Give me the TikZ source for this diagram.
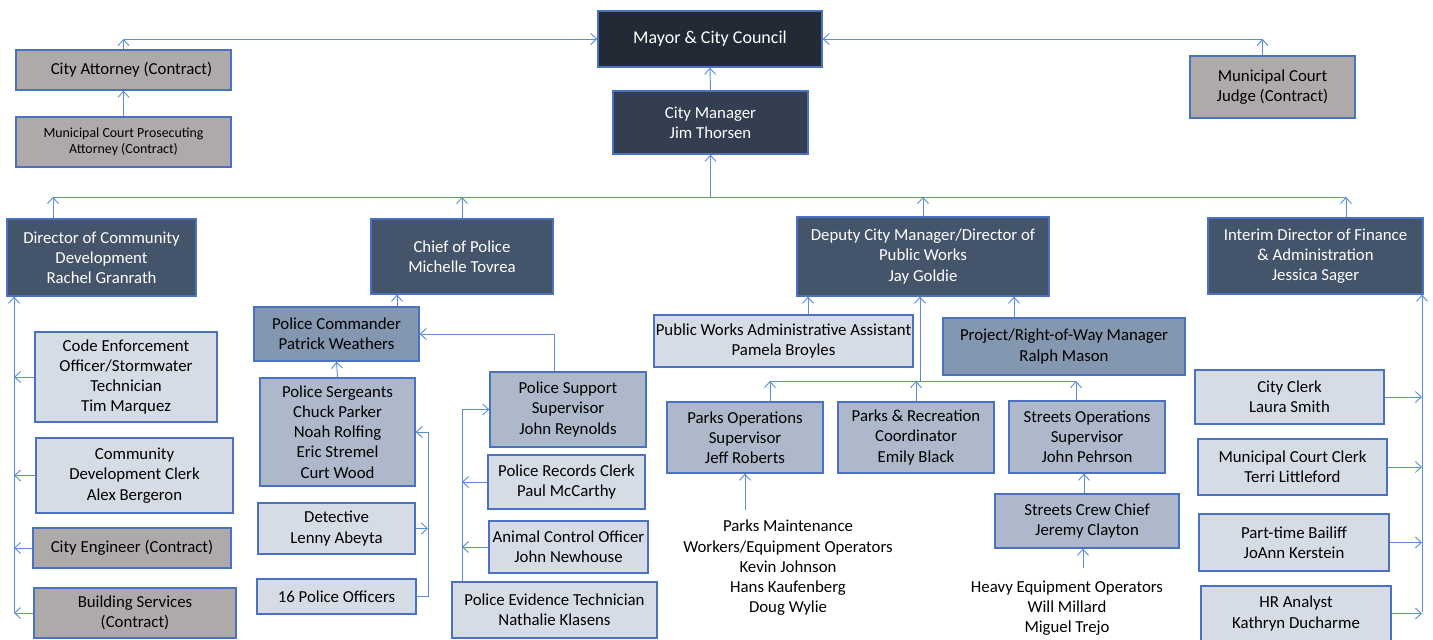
\documentclass[tikz,border=0pt]{standalone}
\usepackage{fontspec}
\setmainfont{Carlito}
\usetikzlibrary{arrows.meta}
\definecolor{bordc}{HTML}{4A72C0}
\definecolor{linec}{HTML}{5B8BDB}
\definecolor{cmayor}{HTML}{222A35}
\definecolor{cman}{HTML}{333F50}
\definecolor{cdir}{HTML}{44546A}
\definecolor{cmid}{HTML}{8497B0}
\definecolor{clm}{HTML}{ADB9CA}
\definecolor{clt}{HTML}{D6DCE5}
\definecolor{cgray}{HTML}{AEAAAA}
\newcommand\myfs{\fontsize{16.8}{20.2}\selectfont}
\newcommand\mysmallfs{\fontsize{13.9}{16.5}\selectfont}
\begin{document}
\begin{tikzpicture}[x=1pt,y=-1pt,
  box/.style={draw=bordc,line width=1.3pt,inner sep=0pt,align=center,font=\myfs},
  bmayor/.style={box,fill=cmayor,text=white},
  bman/.style={box,fill=cman,text=white},
  bdir/.style={box,fill=cdir,text=white},
  bmid/.style={box,fill=cmid},
  blm/.style={box,fill=clm},
  blt/.style={box,fill=clt},
  bgray/.style={box,fill=cgray},
  plain/.style={inner sep=0pt,align=center,font=\myfs},
  ln/.style={draw=linec,line width=0.9pt},
  ar/.style={ln,-{Straight Barb[length=6pt,width=11pt]}}]
\useasboundingbox[fill=white] (0,0) rectangle (1433,640);

% top
\node[bmayor,minimum width=224pt,minimum height=56pt,font=\fontsize{18}{20}\selectfont] (mayor) at (710,39) {Mayor \& City Council};
\node[bman,minimum width=195pt,minimum height=63pt] (cm) at (710.5,122.5) {City Manager\\Jim Thorsen};
\node[bgray,minimum width=215pt,minimum height=40pt] (att) at (123.5,70) {\hspace*{16pt}City Attorney (Contract)};
\node[bgray,minimum width=215pt,minimum height=50pt,font=\mysmallfs] (pros) at (123.5,142) {Municipal Court Prosecuting\\Attorney (Contract)};
\node[bgray,minimum width=165pt,minimum height=62pt] (judge) at (1272.5,87) {Municipal Court\\Judge (Contract)};

% directors
\node[bdir,minimum width=189pt,minimum height=77pt] (cd) at (101.5,257.5) {Director of Community\\Development\\Rachel Granrath};
\node[bdir,minimum width=182pt,minimum height=75pt] (chief) at (462,256.5) {Chief of Police\\Michelle Tovrea};
\node[bdir,minimum width=252pt,minimum height=79pt] (dep) at (923,256.5) {Deputy City Manager/Director of\\Public Works\\Jay Goldie};
\node[bdir,minimum width=215pt,minimum height=76pt] (fin) at (1315.5,256) {Interim Director of Finance\\\& Administration\\Jessica Sager};

% community development
\node[blt,minimum width=182pt,minimum height=90pt] (code) at (126,377) {Code Enforcement\\Officer/Stormwater\\Technician\\Tim Marquez};
\node[blt,minimum width=197pt,minimum height=75pt] (cdc) at (134.5,475.5) {Community\\Development Clerk\\Alex Bergeron};
\node[bgray,minimum width=198pt,minimum height=40pt] (eng) at (132,548) {City Engineer (Contract)};
\node[bgray,minimum width=202pt,minimum height=50pt] (bld) at (135,613) {Building Services\\(Contract)};

% police
\node[bmid,minimum width=165pt,minimum height=54pt] (cmd) at (336.5,334) {Police Commander\\Patrick Weathers};
\node[blm,minimum width=155pt,minimum height=108pt] (sgt) at (337.5,432) {Police Sergeants\\Chuck Parker\\Noah Rolfing\\Eric Stremel\\Curt Wood};
\node[blt,minimum width=157pt,minimum height=51pt] (det) at (336.5,528.5) {Detective\\Lenny Abeyta};
\node[blt,minimum width=159pt,minimum height=35pt] (off) at (336.5,596.5) {16 Police Officers};
\node[blm,minimum width=156pt,minimum height=75pt] (sup) at (568,409.5) {Police Support\\Supervisor\\John Reynolds};
\node[blt,minimum width=157pt,minimum height=54pt] (rec) at (566.5,482) {Police Records Clerk\\Paul McCarthy};
\node[blt,minimum width=159pt,minimum height=52pt] (ani) at (568.5,547) {Animal Control Officer\\John Newhouse};
\node[blt,minimum width=205pt,minimum height=56pt] (evi) at (554.5,610) {Police Evidence Technician\\Nathalie Klasens};

% public works
\node[blt,minimum width=259pt,minimum height=52pt] (pwa) at (783.5,341) {Public Works Administrative Assistant\\Pamela Broyles};
\node[bmid,minimum width=242pt,minimum height=57pt] (row) at (1064,346.5) {Project/Right-of-Way Manager\\Ralph Mason};
\node[blm,minimum width=156pt,minimum height=71pt] (pops) at (745,437.5) {Parks Operations\\Supervisor\\Jeff Roberts};
\node[blm,minimum width=156pt,minimum height=71pt] (prec) at (916,437.5) {Parks \& Recreation\\Coordinator\\Emily Black};
\node[blm,minimum width=156pt,minimum height=72pt] (sops) at (1087,437) {Streets Operations\\Supervisor\\John Pehrson};
\node[blm,minimum width=184pt,minimum height=54pt] (crew) at (1087,521) {Streets Crew Chief\\Jeremy Clayton};
\node[plain] (pmt) at (788,568) {Parks Maintenance\\Workers/Equipment Operators\\Kevin Johnson\\Hans Kaufenberg\\Doug Wylie};
\node[plain] (heq) at (1067,608) {Heavy Equipment Operators\\Will Millard\\Miguel Trejo};

% finance
\node[blt,minimum width=189pt,minimum height=54pt] (clerk) at (1289.5,397) {City Clerk\\Laura Smith};
\node[blt,minimum width=189pt,minimum height=56pt] (mcc) at (1292.5,467) {Municipal Court Clerk\\Terri Littleford};
\node[blt,minimum width=190pt,minimum height=57pt] (bail) at (1294,542.5) {Part-time Bailiff\\JoAnn Kerstein};
\node[blt,minimum width=190pt,minimum height=55pt] (hr) at (1296,613.5) {HR Analyst\\Kathryn Ducharme};

% ---- connectors ----
\coordinate (tl) at (att.north |- mayor.west);
\draw[ar] (att.north) -- (tl);
\draw[ar] (tl) -- (mayor.west);
\coordinate (jt) at ([xshift=-10pt]judge.north);
\coordinate (tr) at (jt |- mayor.east);
\draw[ar] (jt) -- (tr);
\draw[ar] (tr) -- (mayor.east);
\draw[ar] (pros.north) -- (att.south);
\draw[ar] (cm.north) -- (mayor.south);

\coordinate (busy) at (0,197);
\coordinate (b0) at (cm.south |- busy);
\coordinate (bl) at (53,197);
\coordinate (br) at (1346,197);
\draw[ar] (b0) -- (cm.south);
\draw[ln] (bl) -- (br);
\draw[ar] (bl |- cd.north) -- (bl);
\draw[ar] (chief.north) -- (chief.north |- busy);
\draw[ar] (dep.north) -- (dep.north |- busy);
\draw[ar] (br |- fin.north) -- (br);

% community development column
\coordinate (lx) at (14,613);
\draw[ar] (lx) -- (lx |- cd.south);
\foreach \n in {code,cdc,eng,bld} \draw[ar] (\n.west) -- (\n.west -| lx);

% police
\coordinate (cx) at (397,0);
\draw[ar] (cx |- cmd.north) -- (cx |- chief.south);
\draw[ar] (sgt.north) -- (cmd.south);
\coordinate (px) at (428,0);
\draw[ar] (off.east) -| (px |- sgt.east) -- (sgt.east);
\draw[ar] (det.east) -- (det.east -| px);
\coordinate (sx) at (554,0);
\draw[ar] (sx |- sup.north) |- (cmd.east);
\coordinate (ex) at (462,0);
\draw[ar] (ex |- evi.north) |- (sup.west);
\draw[ar] (rec.west) -- (rec.west -| ex);
\draw[ar] (ani.west) -- (ani.west -| ex);

% public works
\coordinate (wx1) at (808,0);
\draw[ar] (wx1 |- pwa.north) -- (wx1 |- dep.south);
\coordinate (wx2) at (1014,0);
\draw[ar] (wx2 |- row.north) -- (wx2 |- dep.south);
\coordinate (b2) at (920,381);
\coordinate (b2l) at (770,381);
\coordinate (b2r) at (1076,381);
\draw[ar] (b2) -- (b2 |- dep.south);
\draw[ln] (b2l) -- (b2r);
\draw[ar] (b2l |- pops.north) -- (b2l);
\draw[ar] (prec.north) -- (prec.north |- b2);
\draw[ar] (b2r |- sops.north) -- (b2r);
\coordinate (pmtop) at (745,510);
\draw[ar] (pmtop) -- (pmtop |- pops.south);
\coordinate (cx2) at (1084,0);
\draw[ar] (cx2 |- crew.north) -- (cx2 |- sops.south);
\coordinate (hetop) at (1083,568);
\draw[ar] (hetop) -- (hetop |- crew.south);

% finance column
\coordinate (rx) at (1422,612);
\draw[ar] (rx) -- (rx |- fin.south);
\foreach \n in {clerk,mcc,bail,hr} \draw[ar] (\n.east) -- (\n.east -| rx);
\end{tikzpicture}
\end{document}
